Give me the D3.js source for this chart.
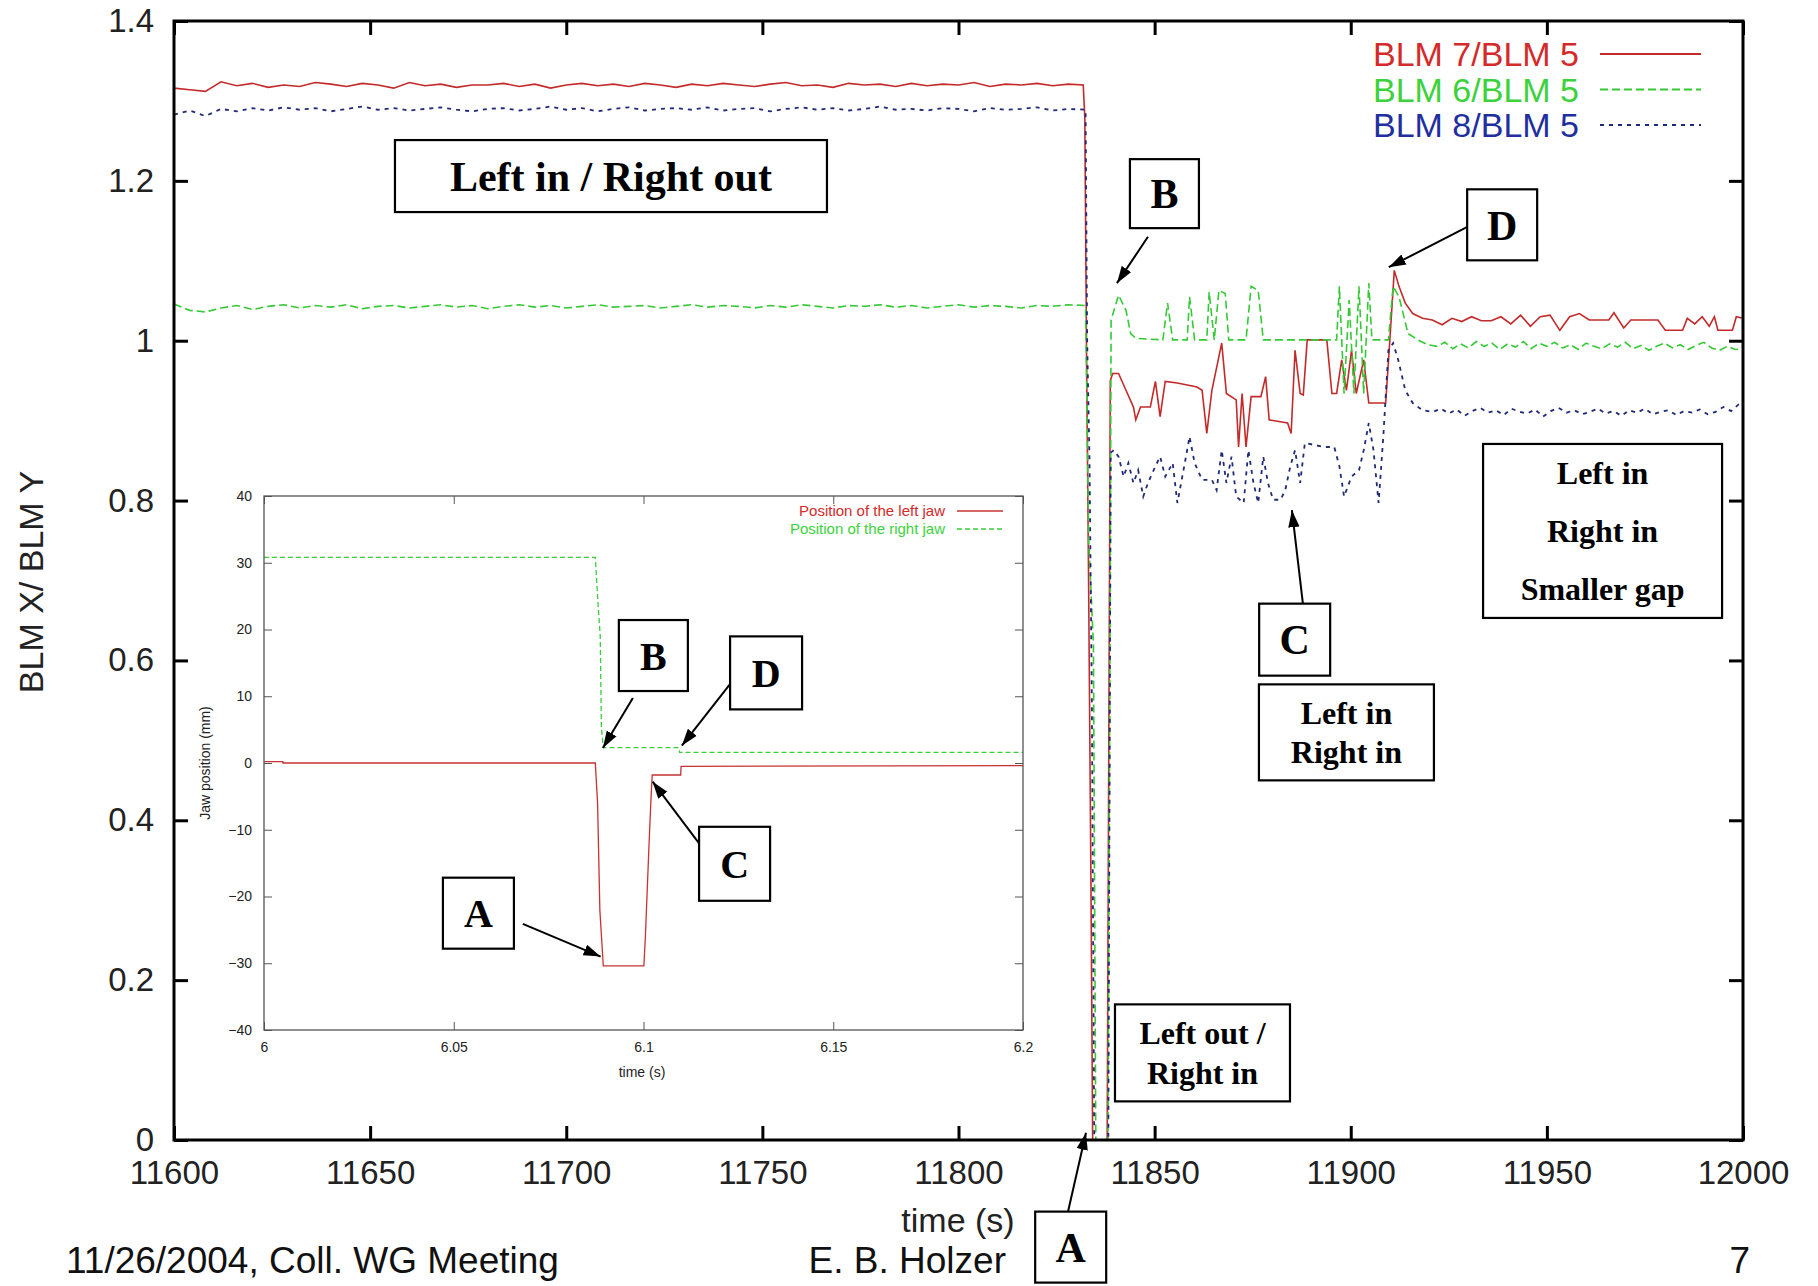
<!DOCTYPE html>
<html>
<head>
<meta charset="utf-8">
<script src="https://d3js.org/d3.v7.min.js"></script>
<style>
  body { margin: 0; background: #fff; }
  svg { display: block; }
</style>
</head>
<body>
<svg id="chart"></svg>
<script>
// ---- main chart data (time in s, BLM ratio) ----
var xTicks = [11600, 11650, 11700, 11750, 11800, 11850, 11900, 11950, 12000];
var yTicks = [0, 0.2, 0.4, 0.6, 0.8, 1, 1.2, 1.4];

// BLM 7/BLM 5
var blm7 = [
  [11600,1.316],[11604,1.314],[11608,1.312],[11612,1.324],[11616,1.319],[11620,1.322],[11624,1.317],[11628,1.320],
  [11632,1.318],[11636,1.323],[11640,1.321],[11644,1.318],[11648,1.322],[11652,1.320],[11656,1.316],[11660,1.323],
  [11664,1.319],[11668,1.321],[11672,1.317],[11676,1.320],[11680,1.320],[11684,1.322],[11688,1.318],[11692,1.321],
  [11696,1.316],[11700,1.320],[11704,1.322],[11708,1.319],[11712,1.321],[11716,1.318],[11720,1.322],[11724,1.320],
  [11728,1.317],[11732,1.321],[11736,1.319],[11740,1.322],[11744,1.320],[11748,1.318],[11752,1.321],[11756,1.323],
  [11760,1.319],[11764,1.320],[11768,1.317],[11772,1.322],[11776,1.320],[11780,1.321],[11784,1.318],[11788,1.322],
  [11792,1.319],[11796,1.321],[11800,1.320],[11804,1.323],[11808,1.318],[11812,1.321],[11816,1.320],[11820,1.322],
  [11824,1.319],[11828,1.321],[11831.8,1.320],
  [11832.2,1.28],[11832.7,0.95],[11833.2,0.68],[11833.8,0.30],[11834.2,0],[11837.9,0],[11838.7,0.95],
  [11839.3,0.959],[11840.8,0.959],[11842.7,0.938],[11844.6,0.917],[11845.2,0.901],[11846.4,0.917],[11848.9,0.917],
  [11850.2,0.949],[11851.4,0.905],[11852.7,0.949],[11855.8,0.947],[11860.8,0.942],[11862.1,0.938],[11863.3,0.884],
  [11864.6,0.938],[11867.1,0.997],[11868.3,0.934],[11870.8,0.926],[11871.4,0.867],[11872.3,0.934],[11873.3,0.867],
  [11874.6,0.930],[11877.1,0.930],[11878.3,0.955],[11879.2,0.901],[11883.9,0.897],[11884.8,0.884],[11885.8,0.988],
  [11887.1,0.934],[11887.9,0.932],[11888.9,1.001],[11893.9,1.001],[11895.2,0.934],[11896.4,0.934],[11897.7,0.976],
  [11898.9,0.938],[11900.2,0.988],[11901.4,0.934],[11903.3,0.976],[11904.6,0.922],[11908.9,0.922],[11909.8,0.988],
  [11911.1,1.088],[11912.3,1.068],[11913.9,1.047],[11915.8,1.034],[11918.3,1.028],[11920.8,1.026],[11923.3,1.020],
  [11925.8,1.028],[11928.3,1.024],[11930.8,1.030],[11933.3,1.025],[11935.8,1.025],[11938.3,1.030],[11940.8,1.021],
  [11943.3,1.032],[11945.8,1.018],[11948.3,1.030],[11950.8,1.032],[11953.3,1.013],[11955.8,1.030],[11958.3,1.034],
  [11960.8,1.026],[11965.8,1.026],[11967.1,1.035],[11969.6,1.016],[11971.4,1.026],[11978.3,1.026],[11980.2,1.013],
  [11984.6,1.013],[11985.8,1.028],[11987.7,1.021],[11989.6,1.030],[11991.4,1.018],[11992.7,1.030],[11993.6,1.013],
  [11997.3,1.013],[11998.3,1.030],[12000,1.028]
];

// BLM 6/BLM 5
var blm6 = [
  [11600,1.046],[11604,1.038],[11608,1.036],[11612,1.041],[11616,1.044],[11620,1.039],[11624,1.043],[11628,1.045],
  [11632,1.041],[11636,1.044],[11640,1.042],[11644,1.045],[11648,1.040],[11652,1.043],[11656,1.044],[11660,1.041],
  [11664,1.043],[11668,1.045],[11672,1.042],[11676,1.044],[11680,1.040],[11684,1.043],[11688,1.045],[11692,1.042],
  [11696,1.044],[11700,1.041],[11704,1.043],[11708,1.045],[11712,1.042],[11716,1.043],[11720,1.044],[11724,1.041],
  [11728,1.043],[11732,1.045],[11736,1.042],[11740,1.044],[11744,1.043],[11748,1.041],[11752,1.044],[11756,1.042],
  [11760,1.045],[11764,1.043],[11768,1.041],[11772,1.044],[11776,1.043],[11780,1.045],[11784,1.042],[11788,1.044],
  [11792,1.041],[11796,1.043],[11800,1.045],[11804,1.042],[11808,1.044],[11812,1.043],[11816,1.041],[11820,1.044],
  [11824,1.043],[11828,1.045],[11832.4,1.044],
  [11833.2,0.75],[11834.4,0.62],[11835,0],[11838.1,0],[11838.7,0.70],
  [11838.9,1.026],[11840.8,1.057],[11842.7,1.038],[11843.9,1.009],[11845.2,1.003],[11852.1,1.001],[11853.3,1.047],
  [11854.6,1.001],[11858.3,1.001],[11858.9,1.055],[11860.2,1.001],[11863.3,1.001],[11863.9,1.061],[11865.2,1.001],
  [11866.4,1.063],[11868.0,1.059],[11868.9,1.001],[11873.3,1.001],[11874.6,1.068],[11876.4,1.063],[11877.7,1.001],
  [11896.4,1.001],[11897.1,1.068],[11898.3,0.934],[11899.6,1.051],[11900.8,0.934],[11902.1,1.068],[11903.3,0.934],
  [11904.6,1.072],[11905.4,1.001],[11909.6,1.001],[11910.8,1.068],[11912.3,1.055],[11914.6,1.009],[11917.1,1.001],
  [11919.6,0.995],[11922,0.993],[11924,0.998],[11926,0.990],[11928,0.996],[11930,0.991],[11932,0.999],[11934,0.993],
  [11936,0.997],[11938,0.989],[11940,0.996],[11942,0.992],[11944,0.999],[11946,0.990],[11948,0.997],[11950,0.993],
  [11952,0.998],[11954,0.991],[11956,0.995],[11958,0.989],[11960,0.997],[11962,0.993],[11964,0.990],[11966,0.996],
  [11968,0.992],[11970,0.998],[11972,0.990],[11974,0.994],[11976,0.988],[11978,0.993],[11980,0.997],[11982,0.991],
  [11984,0.995],[11986,0.989],[11988,0.994],[11990,0.998],[11992,0.991],[11994,0.988],[11996,0.993],[11998,0.989],
  [12000,0.990]
];

// BLM 8/BLM 5
var blm8 = [
  [11600,1.283],[11604,1.288],[11608,1.281],[11612,1.290],[11616,1.287],[11620,1.291],[11624,1.288],[11628,1.292],
  [11632,1.289],[11636,1.291],[11640,1.287],[11644,1.290],[11648,1.293],[11652,1.289],[11656,1.291],[11660,1.288],
  [11664,1.290],[11668,1.292],[11672,1.289],[11676,1.287],[11680,1.290],[11684,1.291],[11688,1.288],[11692,1.290],
  [11696,1.293],[11700,1.289],[11704,1.291],[11708,1.287],[11712,1.290],[11716,1.292],[11720,1.288],[11724,1.290],
  [11728,1.291],[11732,1.289],[11736,1.292],[11740,1.288],[11744,1.290],[11748,1.291],[11752,1.287],[11756,1.290],
  [11760,1.292],[11764,1.289],[11768,1.291],[11772,1.288],[11776,1.290],[11780,1.293],[11784,1.289],[11788,1.290],
  [11792,1.288],[11796,1.291],[11800,1.290],[11804,1.287],[11808,1.291],[11812,1.289],[11816,1.290],[11820,1.292],
  [11824,1.288],[11828,1.290],[11832.4,1.289],
  [11832.8,1.0],[11833.4,0.85],[11834,0.55],[11834.6,0],[11838.2,0],[11838.8,0.86],
  [11839.6,0.863],[11840.8,0.855],[11842.1,0.830],[11843.3,0.847],[11844.6,0.822],[11845.8,0.838],[11847.1,0.805],
  [11848.3,0.822],[11850.2,0.843],[11851.4,0.855],[11852.7,0.830],[11854.6,0.847],[11855.8,0.797],[11857.7,0.847],
  [11858.9,0.880],[11860.2,0.847],[11862.1,0.826],[11864.6,0.826],[11865.8,0.813],[11867.1,0.863],[11868.3,0.822],
  [11869.6,0.855],[11870.8,0.805],[11872.7,0.797],[11873.9,0.863],[11875.2,0.822],[11876.4,0.797],[11877.7,0.855],
  [11878.9,0.822],[11880.2,0.801],[11882.1,0.801],[11883.3,0.813],[11884.6,0.843],[11885.8,0.863],[11887.1,0.822],
  [11888.3,0.872],[11893.3,0.867],[11895.8,0.867],[11897.1,0.843],[11898.3,0.805],[11900.2,0.830],[11902.1,0.838],
  [11903.3,0.863],[11904.6,0.897],[11905.8,0.863],[11907.1,0.797],[11908.3,0.880],[11909.6,0.988],[11910.8,0.997],
  [11912.1,0.976],[11913.9,0.938],[11915.8,0.922],[11918.3,0.913],[11921,0.911],[11923,0.915],[11925,0.909],
  [11927,0.914],[11929,0.906],[11931,0.912],[11933,0.916],[11935,0.910],[11937,0.913],[11939,0.907],[11941,0.915],
  [11943,0.911],[11945,0.909],[11947,0.914],[11949,0.905],[11951,0.912],[11953,0.916],[11955,0.910],[11957,0.913],
  [11959,0.908],[11961,0.911],[11963,0.915],[11965,0.909],[11967,0.912],[11969,0.906],[11971,0.913],[11973,0.910],
  [11975,0.915],[11977,0.908],[11979,0.911],[11981,0.913],[11983,0.907],[11985,0.912],[11987,0.910],[11989,0.914],
  [11991,0.908],[11993,0.911],[11995,0.917],[11997,0.912],[11999,0.921],[12000,0.918]
];

// ---- inset data (time in s, jaw position in mm) ----
var insetXTicks = [6, 6.05, 6.1, 6.15, 6.2];
var insetYTicks = [-40, -30, -20, -10, 0, 10, 20, 30, 40];
var leftJaw = [[6.0,0.2],[6.005,0.2],[6.005,0],[6.0873,0],[6.0879,-6],[6.0885,-22],[6.0894,-30.4],[6.1001,-30.4],
  [6.1005,-26],[6.1014,-13],[6.102,-5],[6.1023,-1.8],[6.1098,-1.8],[6.1099,-0.5],[6.2,-0.4]];
var rightJaw = [[6.0,30.8],[6.0873,30.8],[6.0880,24],[6.0886,19],[6.0889,5.4],[6.0894,2.3],[6.1093,2.3],
  [6.1095,1.6],[6.2,1.6]];

var seriesNames = ["BLM 7/BLM 5", "BLM 6/BLM 5", "BLM 8/BLM 5"];
var insetNames = ["Position of the left jaw", "Position of the right jaw"];

// annotation boxes, anchored in data units
var mainNotes = [
  { lines: ["Left in / Right out"], t: 11711.4, v: 1.206, w: 432, h: 72, size: 42, gap: 0 },
  { lines: ["B"], t: 11852.5, v: 1.184, w: 69, h: 69, size: 42, gap: 0 },
  { lines: ["D"], t: 11938.6, v: 1.145, w: 70, h: 71, size: 42, gap: 0 },
  { lines: ["C"], t: 11885.7, v: 0.626, w: 71, h: 72, size: 42, gap: 0 },
  { lines: ["Left in", "Right in"], t: 11898.9, v: 0.510, w: 175, h: 96, size: 32, gap: 39 },
  { lines: ["Left in", "Right in", "Smaller gap"], t: 11964.2, v: 0.762, w: 239, h: 174, size: 32, gap: 58 },
  { lines: ["Left out /", "Right in"], t: 11862.2, v: 0.109, w: 175, h: 97, size: 32, gap: 40 },
  { lines: ["A"], t: 11828.6, v: -0.134, w: 71, h: 71, size: 42, gap: 0 }
];
var mainArrows = [
  { from: [11848.3, 1.130], to: [11840.4, 1.072] },
  { from: [11929.6, 1.142], to: [11909.7, 1.092] },
  { from: [11887.8, 0.671], to: [11885.0, 0.788] },
  { from: [11827.9, -0.090], to: [11832.5, 0.009] }
];
var insetNotes = [
  { lines: ["B"], t: 6.1026, v: 16.1, w: 69, h: 71, size: 40, gap: 0 },
  { lines: ["D"], t: 6.1323, v: 13.5, w: 72, h: 73, size: 40, gap: 0 },
  { lines: ["C"], t: 6.1240, v: -15.1, w: 71, h: 74, size: 40, gap: 0 },
  { lines: ["A"], t: 6.0565, v: -22.5, w: 71, h: 71, size: 40, gap: 0 }
];
var insetArrows = [
  { from: [6.0972, 9.74], to: [6.0893, 2.25] },
  { from: [6.1228, 11.8], to: [6.1101, 2.6] },
  { from: [6.1146, -12.0], to: [6.1024, -2.8] },
  { from: [6.0682, -24.1], to: [6.0887, -29.0] }
];

// ---- layout ----
var W = 1818, H = 1286;
var main = { left: 174, right: 1743, top: 21, bottom: 1140 };
var inset = { left: 264, right: 1023, top: 496, bottom: 1030 };
var sansFont = "Liberation Sans, Arial, Helvetica, sans-serif";
var serifFont = "Liberation Serif, Times New Roman, serif";
var colors = ["#c42a2a", "#35c935", "#1f2a78"];
var legendColors = ["#d42a2a", "#3cd23c", "#1f2fa0"];
var dashes = [null, "8,4", "4,5"];

var svg = d3.select("#chart").attr("width", W).attr("height", H);

svg.append("defs").append("marker")
    .attr("id", "arrowhead")
    .attr("viewBox", "0 0 12 8")
    .attr("refX", 12)
    .attr("refY", 4)
    .attr("markerUnits", "userSpaceOnUse")
    .attr("markerWidth", 17)
    .attr("markerHeight", 12)
    .attr("orient", "auto")
    .append("path")
    .attr("d", "M0,0 L12,4 L0,8 Z")
    .attr("fill", "#000");

// scales
var x = d3.scaleLinear().domain([11600, 12000]).range([main.left, main.right]);
var y = d3.scaleLinear().domain([0, 1.4]).range([main.bottom, main.top]);
var xi = d3.scaleLinear().domain([6, 6.2]).range([inset.left, inset.right]);
var yi = d3.scaleLinear().domain([-40, 40]).range([inset.bottom, inset.top]);

function styleAxis(g, size, color) {
    g.attr("font-family", sansFont).attr("font-size", size);
    g.select(".domain").remove();
    g.selectAll(".tick text").attr("fill", color);
}

// main axes with inward ticks on all four sides
var tickFmt = d3.format("~g");
svg.append("g")
    .attr("transform", "translate(0," + main.bottom + ")")
    .call(d3.axisBottom(x).tickValues(xTicks).tickFormat(tickFmt).tickSize(-14).tickPadding(21))
    .call(styleAxis, 33, "#222")
    .selectAll(".tick line").attr("stroke-width", 3);
svg.append("g")
    .attr("transform", "translate(0," + main.top + ")")
    .call(d3.axisTop(x).tickValues(xTicks).tickFormat("").tickSize(-14))
    .call(styleAxis, 33, "#222")
    .selectAll(".tick line").attr("stroke-width", 3);
svg.append("g")
    .attr("transform", "translate(" + main.left + ",0)")
    .call(d3.axisLeft(y).tickValues(yTicks).tickFormat(tickFmt).tickSize(-14).tickPadding(20))
    .call(styleAxis, 33, "#222")
    .selectAll(".tick line").attr("stroke-width", 3);
svg.append("g")
    .attr("transform", "translate(" + main.right + ",0)")
    .call(d3.axisRight(y).tickValues(yTicks).tickFormat("").tickSize(-14))
    .call(styleAxis, 33, "#222")
    .selectAll(".tick line").attr("stroke-width", 3);

// data lines
var line = d3.line().x(function(d) { return x(d[0]); }).y(function(d) { return y(d[1]); });
[blm7, blm6, blm8].forEach(function(s, i) {
    svg.append("path")
        .datum(s)
        .attr("d", line)
        .attr("fill", "none")
        .attr("stroke", colors[i])
        .attr("stroke-width", i == 2 ? 1.8 : 1.6)
        .attr("stroke-dasharray", dashes[i]);
});

svg.append("rect")
    .attr("x", main.left).attr("y", main.top)
    .attr("width", main.right - main.left).attr("height", main.bottom - main.top)
    .attr("fill", "none").attr("stroke", "#000").attr("stroke-width", 3);

// legend
seriesNames.forEach(function(name, i) {
    var ly = 54 + i * 35.5;
    svg.append("text")
        .attr("x", 1579).attr("y", ly).attr("dy", "0.36em")
        .attr("text-anchor", "end")
        .attr("font-family", sansFont).attr("font-size", 34)
        .attr("fill", legendColors[i])
        .text(name);
    svg.append("line")
        .attr("x1", 1600).attr("x2", 1701).attr("y1", ly).attr("y2", ly)
        .attr("stroke", colors[i]).attr("stroke-width", 1.8)
        .attr("stroke-dasharray", dashes[i]);
});

// axis titles
svg.append("text")
    .attr("transform", "translate(31,582) rotate(-90)")
    .attr("text-anchor", "middle").attr("dy", "0.36em")
    .attr("font-family", sansFont).attr("font-size", 34).attr("fill", "#222")
    .text("BLM X/ BLM Y");
svg.append("text")
    .attr("x", 958).attr("y", 1232)
    .attr("text-anchor", "middle")
    .attr("font-family", sansFont).attr("font-size", 34).attr("fill", "#222")
    .text("time (s)");

// footer
svg.append("text").attr("x", 66).attr("y", 1273)
    .attr("font-family", sansFont).attr("font-size", 37).attr("fill", "#111")
    .text("11/26/2004, Coll. WG Meeting");
svg.append("text").attr("x", 1006).attr("y", 1273).attr("text-anchor", "end")
    .attr("font-family", sansFont).attr("font-size", 37).attr("fill", "#111")
    .text("E. B. Holzer");
svg.append("text").attr("x", 1750).attr("y", 1273).attr("text-anchor", "end")
    .attr("font-family", sansFont).attr("font-size", 37).attr("fill", "#111")
    .text("7");

// ---- inset ----
var ig = svg.append("g");
ig.append("rect")
    .attr("x", inset.left).attr("y", inset.top)
    .attr("width", inset.right - inset.left).attr("height", inset.bottom - inset.top)
    .attr("fill", "#fff");

var insetFmt = function(d) { return d3.format("~g")(d); };
ig.append("g")
    .attr("transform", "translate(0," + inset.bottom + ")")
    .call(d3.axisBottom(xi).tickValues(insetXTicks).tickFormat(insetFmt).tickSize(-8).tickPadding(12))
    .call(styleAxis, 14, "#222")
    .selectAll(".tick line").attr("stroke", "#555");
ig.append("g")
    .attr("transform", "translate(0," + inset.top + ")")
    .call(d3.axisTop(xi).tickValues(insetXTicks).tickFormat("").tickSize(-8))
    .call(styleAxis, 14, "#222")
    .selectAll(".tick line").attr("stroke", "#555");
ig.append("g")
    .attr("transform", "translate(" + inset.left + ",0)")
    .call(d3.axisLeft(yi).tickValues(insetYTicks).tickFormat(insetFmt).tickSize(-8).tickPadding(12))
    .call(styleAxis, 14, "#222")
    .selectAll(".tick line").attr("stroke", "#555");
ig.append("g")
    .attr("transform", "translate(" + inset.right + ",0)")
    .call(d3.axisRight(yi).tickValues(insetYTicks).tickFormat("").tickSize(-8))
    .call(styleAxis, 14, "#222")
    .selectAll(".tick line").attr("stroke", "#555");

var iline = d3.line().x(function(d) { return xi(d[0]); }).y(function(d) { return yi(d[1]); });
ig.append("path").datum(leftJaw).attr("d", iline)
    .attr("fill", "none").attr("stroke", "#c83232").attr("stroke-width", 1.3);
ig.append("path").datum(rightJaw).attr("d", iline)
    .attr("fill", "none").attr("stroke", "#3ccc3c").attr("stroke-width", 1.3)
    .attr("stroke-dasharray", "5,3");

ig.append("rect")
    .attr("x", inset.left).attr("y", inset.top)
    .attr("width", inset.right - inset.left).attr("height", inset.bottom - inset.top)
    .attr("fill", "none").attr("stroke", "#555").attr("stroke-width", 1.3);

insetNames.forEach(function(name, i) {
    var ly = 511 + i * 18;
    ig.append("text")
        .attr("x", 945).attr("y", ly).attr("dy", "0.36em").attr("text-anchor", "end")
        .attr("font-family", sansFont).attr("font-size", 15)
        .attr("fill", i == 0 ? "#d42a2a" : "#3cd23c")
        .text(name);
    ig.append("line")
        .attr("x1", 957).attr("x2", 1003).attr("y1", ly).attr("y2", ly)
        .attr("stroke", i == 0 ? "#c83232" : "#3ccc3c").attr("stroke-width", 1.3)
        .attr("stroke-dasharray", i == 0 ? null : "5,3");
});

ig.append("text")
    .attr("x", 642).attr("y", 1072).attr("dy", "0.36em").attr("text-anchor", "middle")
    .attr("font-family", sansFont).attr("font-size", 14).attr("fill", "#222")
    .text("time (s)");
ig.append("text")
    .attr("transform", "translate(205,763) rotate(-90)")
    .attr("text-anchor", "middle").attr("dy", "0.36em")
    .attr("font-family", sansFont).attr("font-size", 14).attr("fill", "#222")
    .text("Jaw position (mm)");

// ---- annotations ----
function drawNote(g, n, sx, sy) {
    var cx = sx(n.t), cy = sy(n.v);
    g.append("rect")
        .attr("x", cx - n.w / 2).attr("y", cy - n.h / 2)
        .attr("width", n.w).attr("height", n.h)
        .attr("fill", "#fff").attr("stroke", "#000").attr("stroke-width", 2.2);
    var t = g.append("text")
        .attr("text-anchor", "middle")
        .attr("font-family", serifFont).attr("font-weight", "bold")
        .attr("font-size", n.size).attr("fill", "#000");
    n.lines.forEach(function(s, i) {
        t.append("tspan")
            .attr("x", cx)
            .attr("y", cy + (i - (n.lines.length - 1) / 2) * n.gap)
            .attr("dy", "0.35em")
            .text(s);
    });
}
function drawArrow(g, a, sx, sy) {
    g.append("line")
        .attr("x1", sx(a.from[0])).attr("y1", sy(a.from[1]))
        .attr("x2", sx(a.to[0])).attr("y2", sy(a.to[1]))
        .attr("stroke", "#000").attr("stroke-width", 2)
        .attr("marker-end", "url(#arrowhead)");
}

var notes = svg.append("g");
mainArrows.forEach(function(a) { drawArrow(notes, a, x, y); });
mainNotes.forEach(function(n) { drawNote(notes, n, x, y); });
insetArrows.forEach(function(a) { drawArrow(notes, a, xi, yi); });
insetNotes.forEach(function(n) { drawNote(notes, n, xi, yi); });
</script>
</body>
</html>
